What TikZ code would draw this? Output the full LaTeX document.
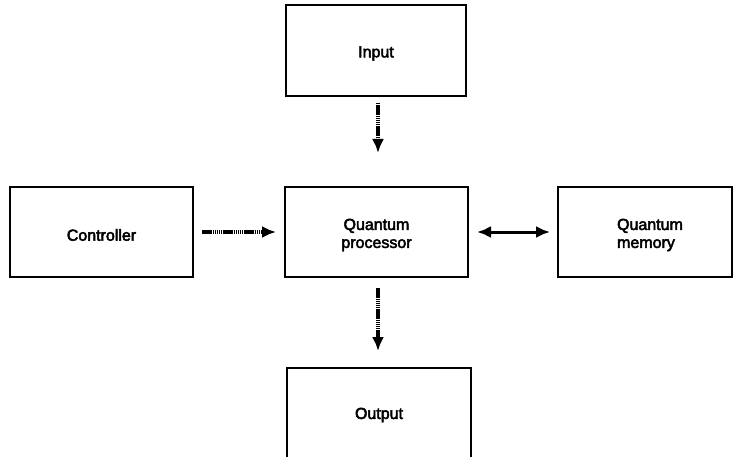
\documentclass[tikz,border=0pt]{standalone}
\usepackage{fontspec}
\setmainfont{Liberation Sans}[FakeBold=3]
\usetikzlibrary{arrows.meta}
\begin{document}
\begin{tikzpicture}[x=1pt,y=-1pt,
  blk/.style={draw=black,line width=2.1pt,fill=white,inner sep=0pt},
  lbl/.style={font=\fontsize{16}{18}\selectfont,yshift=-3pt},
  dotarrow/.style={line width=3.2pt,dash pattern=on 1.5pt off 0.6pt,
    -{Latex[length=14pt,width=12pt]}},
  solidarrow/.style={line width=3pt,
    {Latex[length=14pt,width=12pt]}-{Latex[length=14pt,width=12pt]}}]
\useasboundingbox (0,0) rectangle (733,457);
\node[blk,minimum width=180pt,minimum height=91pt,label={[lbl]center:Input}] (in) at (376,50.5) {};
\node[blk,minimum width=183pt,minimum height=90pt,label={[lbl]center:Controller}] (ctl) at (101.5,232) {};
\node[blk,minimum width=183pt,minimum height=90pt,label={[lbl,align=center]center:Quantum\\processor}] (qp) at (376.5,232) {};
\node[blk,minimum width=174pt,minimum height=90pt,label={[lbl,align=left,xshift=5pt]center:Quantum\\memory}] (qm) at (645,232) {};
\node[blk,minimum width=184pt,minimum height=96pt,label={[lbl,yshift=4pt]center:Output}] (out) at (379,416) {};
\coordinate (a1) at (378,103);
\coordinate (a2) at (378,153);
\draw[dotarrow] (a1) -- (a2);
\coordinate (b1) at (202,232);
\coordinate (b2) at (276,232);
\draw[dotarrow] (b1) -- (b2);
\coordinate (c1) at (477,232);
\coordinate (c2) at (550,232);
\draw[solidarrow] (c1) -- (c2);
\coordinate (d1) at (378,288);
\coordinate (d2) at (378,351);
\draw[dotarrow] (d1) -- (d2);
\end{tikzpicture}
\end{document}
